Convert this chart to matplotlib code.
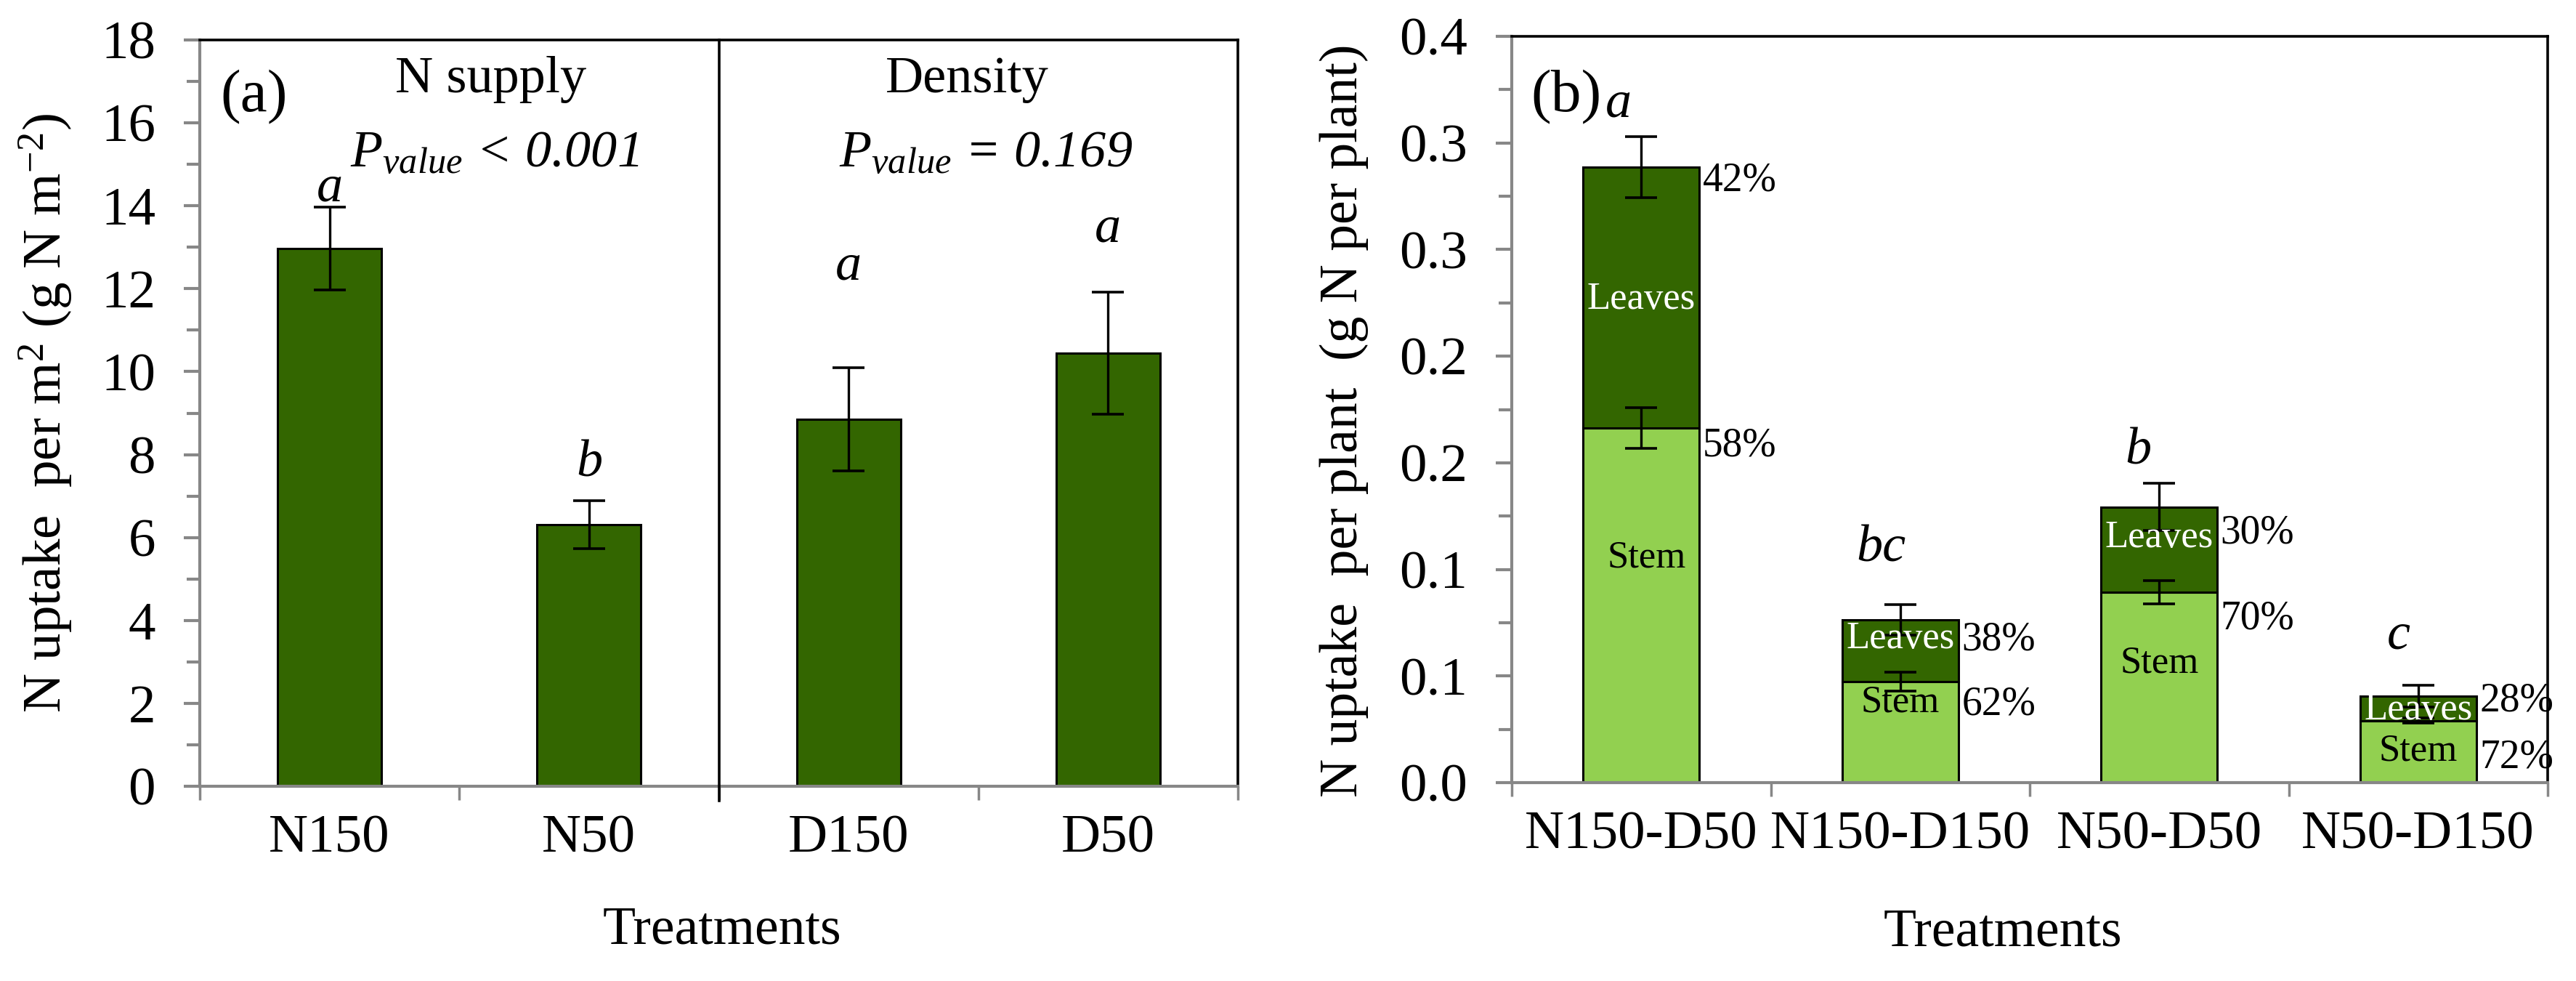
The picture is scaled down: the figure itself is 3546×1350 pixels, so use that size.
import numpy as np
import matplotlib
matplotlib.use("Agg")
import matplotlib.pyplot as plt

plt.rcParams['font.family'] = ['Liberation Serif', 'DejaVu Serif']
plt.rcParams['mathtext.fontset'] = 'custom'
plt.rcParams['mathtext.rm'] = 'Liberation Serif'
plt.rcParams['mathtext.it'] = 'Liberation Serif:italic'
plt.rcParams['mathtext.bf'] = 'Liberation Serif:bold'

# ---------------- data ----------------
treat_a = ['N150', 'N50', 'D150', 'D50']
uptake_a = [12.97, 6.31, 8.85, 10.44]
err_a = [1.00, 0.58, 1.24, 1.47]
letters_a = ['a', 'b', 'a', 'a']
groups_a = ['N supply', 'Density']
pvals_a = [r'$P_{value}$ < 0.001', r'$P_{value}$ = 0.169']

treat_b = ['N150-D50', 'N150-D150', 'N50-D50', 'N50-D150']
stem_b = [0.1663, 0.0474, 0.0894, 0.0290]
leaves_b = [0.1224, 0.0289, 0.0399, 0.0116]
stem_err_b = [0.0096, 0.0043, 0.0055, 0.0012]
total_err_b = [0.0142, 0.0072, 0.0110, 0.0051]
stem_pct_b = ['58%', '62%', '70%', '72%']
leaves_pct_b = ['42%', '38%', '30%', '28%']
letters_b = ['a', 'bc', 'b', 'c']

yticks_a = [0, 2, 4, 6, 8, 10, 12, 14, 16, 18]
yticks_b = [0.0, 0.05, 0.10, 0.15, 0.20, 0.25, 0.30, 0.35]
yticklabels_b = ['0.0', '0.1', '0.1', '0.2', '0.2', '0.3', '0.3', '0.4']

# ---------------- style ----------------
DARK = '#336600'
LIGHT = '#92D050'
GRAY = '#878787'
W, H = 3546, 1350
fig = plt.figure(figsize=(W / 100, H / 100), dpi=100)
fig.patch.set_facecolor('white')

def px_axes(l, r, t, b):
    return fig.add_axes([l / W, (H - b) / H, (r - l) / W, (b - t) / H])

axa = px_axes(275, 1704, 55, 1082)
axb = px_axes(2081, 3507, 50, 1077)

TICK = 54
for ax in (axa, axb):
    ax.set_xlim(0, 4)
    for s in ('left', 'bottom'):
        ax.spines[s].set_color(GRAY)
        ax.spines[s].set_linewidth(3)
    for s in ('top', 'right'):
        ax.spines[s].set_color('black')
        ax.spines[s].set_linewidth(2.6)
    ax.set_xticks([0, 1, 2, 3, 4])
    ax.set_xticklabels([''] * 5)
    ax.tick_params(axis='x', which='major', direction='out', length=14,
                   width=2.5, color=GRAY)
    ax.tick_params(axis='x', which='minor', length=0, pad=28, labelsize=TICK)
    ax.tick_params(axis='y', which='major', direction='out', length=16,
                   width=3, color=GRAY, pad=28, labelsize=TICK)
    ax.tick_params(axis='y', which='minor', direction='out', length=13,
                   width=3, color=GRAY)
    ax.tick_params(top=False, right=False)

centers = np.arange(4) + 0.5

# ---------------- panel (a) ----------------
axa.set_ylim(0, 18)
axa.set_yticks(yticks_a)
axa.set_yticks(np.arange(1, 18, 2), minor=True)
axa.set_xticks(centers, minor=True)
axa.set_xticklabels(treat_a, minor=True)
axa.bar(centers, uptake_a, width=0.40, color=DARK, edgecolor='black',
        linewidth=2.2, zorder=2)
axa.errorbar(centers, uptake_a, yerr=err_a, fmt='none', ecolor='black',
             elinewidth=2.4, capsize=16, capthick=2.6, zorder=3)
axa.axvline(2, ymin=-14 / 1027 * 1.4, ymax=1, color='black', lw=2.6,
            clip_on=False, zorder=4)
letter_y_a = [14.11, 7.47, 12.23, 13.14]
for x, y, s in zip(centers, letter_y_a, letters_a):
    axa.text(x, y, s, ha='center', va='baseline', style='italic',
             fontsize=52, zorder=5)
group_x = [0.280, 0.739]
pval_x = [0.284, 0.757]
for gx, px_, g, p in zip(group_x, pval_x, groups_a, pvals_a):
    axa.text(gx, 0.930, g, transform=axa.transAxes, ha='center',
             va='baseline', fontsize=52)
    axa.text(px_, 0.8296, p, transform=axa.transAxes, ha='center',
             va='baseline', fontsize=52, style='italic')
axa.text(0.0525, 0.923, '(a)', transform=axa.transAxes, ha='center',
         va='center', fontsize=60)
axa.set_ylabel(r'N uptake  per m$^{\mathrm{2}}$ (g N m$^{\mathrm{-2}}$)',
               fontsize=54, va='center', ha='center')
axa.yaxis.set_label_coords(-0.1484, 0.5)
axa.set_xlabel('Treatments', fontsize=53, va='center', ha='center')
axa.xaxis.set_label_coords(0.503, -0.1938)

# ---------------- panel (b) ----------------
axb.set_ylim(0, 0.35)
axb.set_yticks(yticks_b)
axb.set_yticklabels(yticklabels_b)
axb.set_yticks(np.arange(0.025, 0.35, 0.05), minor=True)
axb.set_xticks(centers, minor=True)
axb.set_xticklabels(treat_b, minor=True)
axb.bar(centers, stem_b, width=0.45, color=LIGHT, edgecolor='black',
        linewidth=2.2, zorder=2)
axb.bar(centers, leaves_b, bottom=stem_b, width=0.45, color=DARK,
        edgecolor='black', linewidth=2.2, zorder=2)
total_b = np.array(stem_b) + np.array(leaves_b)
axb.errorbar(centers, stem_b, yerr=stem_err_b, fmt='none', ecolor='black',
             elinewidth=2.4, capsize=16, capthick=2.6, zorder=3)
axb.errorbar(centers, total_b, yerr=total_err_b, fmt='none', ecolor='black',
             elinewidth=2.4, capsize=16, capthick=2.6, zorder=3)

leaves_lab_pos = [(0.50, 0.2266), (1.50, 0.0675), (2.50, 0.1149), (3.50, 0.0341)]
stem_lab_pos = [(0.52, 0.1056), (1.50, 0.0378), (2.50, 0.0562), (3.50, 0.0147)]
leaves_pct_y = [0.2825, 0.0668, 0.1172, 0.0382]
stem_pct_y = [0.1578, 0.0368, 0.0767, 0.0116]
letter_pos_b = [(0.413, 0.3125), (1.425, 0.1039), (2.42, 0.1496), (3.425, 0.063)]
for i in range(4):
    axb.text(*leaves_lab_pos[i], 'Leaves', color='white', ha='center',
             va='center', fontsize=38, zorder=5)
    axb.text(*stem_lab_pos[i], 'Stem', color='black', ha='center',
             va='center', fontsize=38, zorder=5)
    axb.text(centers[i] + 0.237, leaves_pct_y[i], leaves_pct_b[i],
             ha='left', va='center', fontsize=40, zorder=5)
    axb.text(centers[i] + 0.237, stem_pct_y[i], stem_pct_b[i],
             ha='left', va='center', fontsize=40, zorder=5)
    axb.text(*letter_pos_b[i], letters_b[i], ha='center', va='baseline',
             style='italic', fontsize=52, zorder=5)
axb.text(0.0526, 0.919, '(b)', transform=axb.transAxes, ha='center',
         va='center', fontsize=60)
axb.set_ylabel('N uptake  per plant  (g N per plant)', fontsize=53,
               va='center', ha='center')
axb.yaxis.set_label_coords(-0.162, 0.485)
axb.set_xlabel('Treatments', fontsize=53, va='center', ha='center')
axb.xaxis.set_label_coords(0.474, -0.2016)

fig.savefig('out.png', dpi=100, facecolor='white')
